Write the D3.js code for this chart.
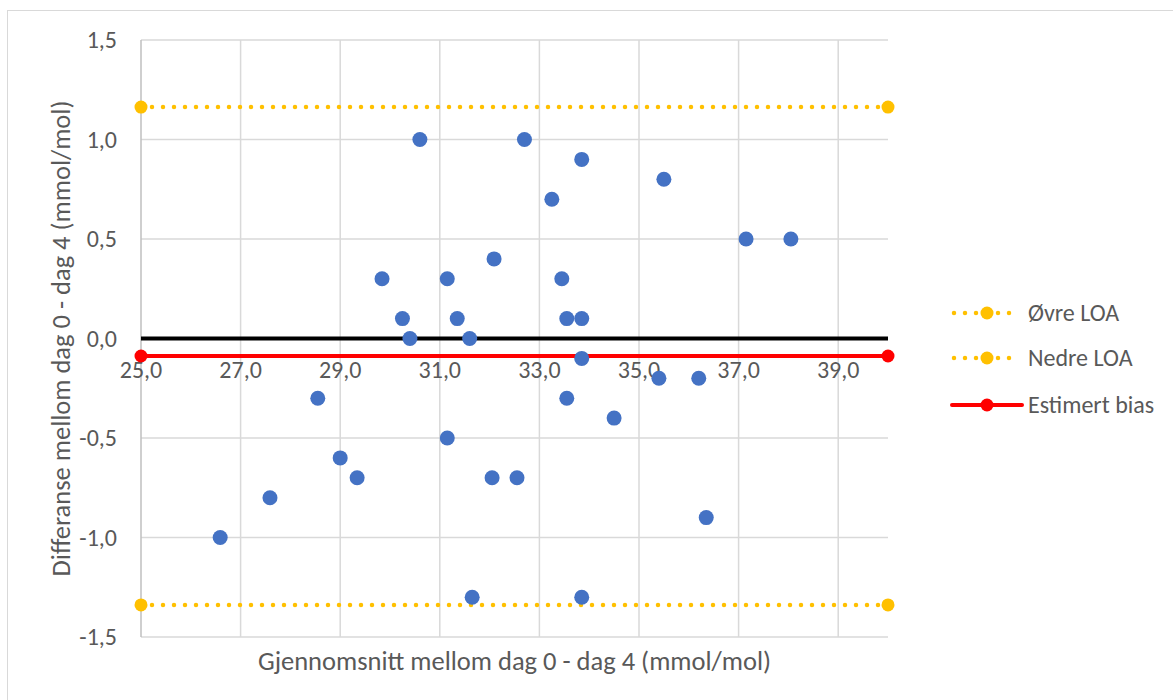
<!DOCTYPE html>
<html><head><meta charset="utf-8">
<script src="https://cdn.jsdelivr.net/npm/d3@7"></script>
<style>body{margin:0;background:#fff}svg{display:block}text{font-family:Carlito,Calibri,"Open Sans",sans-serif}</style>
</head><body><svg id="c" width="1173" height="700"></svg>
<script>
const xVals = [26.59,27.59,28.55,29.0,29.34,29.84,30.25,30.40,30.60,31.15,31.15,31.35,31.60,31.65,32.05,32.09,32.55,32.70,33.25,33.45,33.55,33.55,33.85,33.85,33.85,33.85,34.50,35.40,35.50,36.20,36.35,37.15,38.05];
const yVals = [-1.0,-0.8,-0.3,-0.6,-0.7,0.3,0.1,0.0,1.0,0.3,-0.5,0.1,0.0,-1.3,-0.7,0.4,-0.7,1.0,0.7,0.3,0.1,-0.3,0.9,0.1,-0.1,-1.3,-0.4,-0.2,0.8,-0.2,-0.9,0.5,0.5];
const xRange = [25, 40];
const yRange = [-1.5, 1.5];
const xTicks = [25,27,29,31,33,35,37,39];
const yTicks = [-1.5,-1.0,-0.5,0.0,0.5,1.0,1.5];
const upperLOA = 1.163;
const lowerLOA = -1.339;
const bias = -0.088;
const legendLabels = ["Øvre LOA","Nedre LOA","Estimert bias"];
const xTitle = "Gjennomsnitt mellom dag 0 - dag 4 (mmol/mol)";
const yTitle = "Differanse mellom dag 0 - dag 4 (mmol/mol)";

const svg = d3.select("#c");
const fmt = d => d3.format(".1f")(d).replace(".", ",").replace("\u2212", "-");
const x = d3.scaleLinear().domain(xRange).range([141, 888]);
const y = d3.scaleLinear().domain(yRange).range([637, 40]);
const yellow = "#FFC000", blue = "#4472C4", red = "#FF0000";

// chart border
svg.append("rect").attr("x",7.5).attr("y",10.5).attr("width",1170).attr("height",700).attr("fill","none").attr("stroke","#d9d9d9").attr("stroke-width",1);

// gridlines
svg.append("g").selectAll("line").data(yTicks).join("line")
  .attr("x1",x(25)).attr("x2",x(40)).attr("y1",d=>y(d)).attr("y2",d=>y(d))
  .attr("stroke","#d9d9d9").attr("stroke-width",1.5);
svg.append("g").selectAll("line").data(xTicks.filter(d=>d>25)).join("line")
  .attr("x1",d=>x(d)).attr("x2",d=>x(d)).attr("y1",y(1.5)).attr("y2",y(-1.5))
  .attr("stroke","#d9d9d9").attr("stroke-width",1.5);
// left axis line
svg.append("line").attr("x1",x(25)).attr("x2",x(25)).attr("y1",y(1.5)).attr("y2",y(-1.5)).attr("stroke","#bfbfbf").attr("stroke-width",1.5);

// y tick labels
svg.append("g").selectAll("text").data(yTicks).join("text")
  .attr("x",117).attr("y",d=>y(d)).attr("dy","0.35em").attr("text-anchor","end")
  .attr("font-size",24).attr("fill","#595959").text(fmt);
// x tick labels
svg.append("g").selectAll("text").data(xTicks).join("text")
  .attr("x",d=>x(d)).attr("y",y(0)+31).attr("dy","0.35em").attr("text-anchor","middle")
  .attr("font-size",24).attr("fill","#595959").text(fmt);

// zero line
svg.append("line").attr("x1",x(25)).attr("x2",x(40)).attr("y1",y(0)).attr("y2",y(0)).attr("stroke","#000").attr("stroke-width",4);

// LOA lines
[upperLOA, lowerLOA].forEach(v => {
  svg.append("line").attr("x1",x(25)).attr("x2",x(40)).attr("y1",y(v)).attr("y2",y(v))
    .attr("stroke",yellow).attr("stroke-width",4.5).attr("stroke-linecap","round").attr("stroke-dasharray","0 11");
  svg.append("g").selectAll("circle").data(xRange).join("circle")
    .attr("cx",d=>x(d)).attr("cy",y(v)).attr("r",6.5).attr("fill",yellow);
});
// bias line
svg.append("line").attr("x1",x(25)).attr("x2",x(40)).attr("y1",y(bias)).attr("y2",y(bias)).attr("stroke",red).attr("stroke-width",4);
svg.append("g").selectAll("circle").data(xRange).join("circle")
  .attr("cx",d=>x(d)).attr("cy",y(bias)).attr("r",6.5).attr("fill",red);

// points
svg.append("g").selectAll("circle").data(xVals.map((v,i)=>[v,yVals[i]])).join("circle")
  .attr("cx",d=>x(d[0])).attr("cy",d=>y(d[1])).attr("r",7.5).attr("fill",blue);

// axis titles
svg.append("text").attr("x",(x(25)+x(40))/2).attr("y",661).attr("dy","0.35em").attr("text-anchor","middle")
  .attr("font-size",26.5).attr("fill","#595959").text(xTitle);
svg.append("text").attr("transform",`translate(61,${(y(1.5)+y(-1.5))/2}) rotate(-90)`).attr("dy","0.35em").attr("text-anchor","middle")
  .attr("font-size",26.5).attr("fill","#595959").text(yTitle);

// legend
const lg = svg.append("g");
const rows = [313, 358, 405];
legendLabels.forEach((lab,i) => {
  const yy = rows[i];
  if (i < 2) {
    lg.append("line").attr("x1",954).attr("x2",1020).attr("y1",yy).attr("y2",yy)
      .attr("stroke",yellow).attr("stroke-width",4.5).attr("stroke-linecap","round").attr("stroke-dasharray","0 11");
    lg.append("circle").attr("cx",987).attr("cy",yy).attr("r",6.5).attr("fill",yellow);
  } else {
    lg.append("line").attr("x1",952).attr("x2",1022).attr("y1",yy).attr("y2",yy).attr("stroke",red).attr("stroke-width",4).attr("stroke-linecap","round");
    lg.append("circle").attr("cx",987).attr("cy",yy).attr("r",6.5).attr("fill",red);
  }
  lg.append("text").attr("x",1028).attr("y",yy).attr("dy","0.35em").attr("font-size",24).attr("fill","#595959").text(lab);
});
</script></body></html>
